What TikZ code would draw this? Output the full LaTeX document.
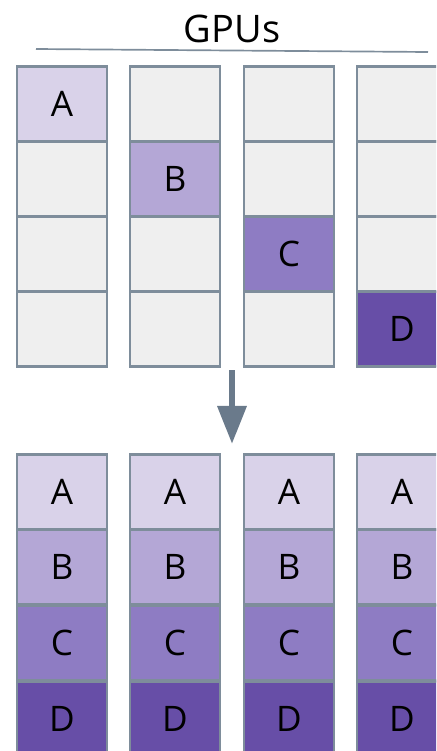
\documentclass[tikz,border=0pt]{standalone}
\usepackage{fontspec}
\setmainfont{Open Sans}
\usetikzlibrary{arrows.meta}

\definecolor{shardA}{HTML}{D9D2E9}
\definecolor{shardB}{HTML}{B4A7D6}
\definecolor{shardC}{HTML}{8E7CC3}
\definecolor{shardD}{HTML}{674EA7}
\definecolor{slotfree}{HTML}{EFEFEF}
\definecolor{edge}{HTML}{7E8D9B}
\definecolor{arrowgray}{HTML}{6A7A8B}

\tikzset{
  cell/.style={draw=edge, line width=2.1pt, minimum width=2.25cm,
    minimum height=1.875cm, inner sep=0pt,
    font=\fontsize{25}{25}\selectfont},
}

\begin{document}
\begin{tikzpicture}[x=0.025cm,y=-0.025cm]
        \clip (0,0) rectangle (436,751);

        \node [font=\fontsize{27}{27}\selectfont](title)at(232,29){GPUs};
        \coordinate (rl) at (36,49);
        \coordinate (rr) at (428,52);
        \draw [edge,line width=1.2pt] (rl) -- (rr);

        % before: one shard per GPU
        \foreach \c/\x in {1/62,2/175,3/289,4/402}
          \foreach \r/\y/\s in {1/104/A,2/179/B,3/254/C,4/329/D}{
            \ifnum\c=\r
              \node [cell,fill=shard\s](t\c\r)at(\x,\y){\s};
            \else
              \node [cell,fill=slotfree](t\c\r)at(\x,\y){};
            \fi
          }

        \coordinate (from) at (232,370);
        \coordinate (to) at (232,444);
        \draw [-{Triangle[width=0.7cm,length=0.95cm]},arrowgray,line width=0.16cm] (from) -- (to);

        % after: every GPU holds all shards
        \foreach \c/\x in {1/62,2/175,3/289,4/402}
          \foreach \s/\y in {A/492,B/567,C/643,D/719}
            \node [cell,fill=shard\s](b\c\s)at(\x,\y){\s};
    \end{tikzpicture}
\end{document}
